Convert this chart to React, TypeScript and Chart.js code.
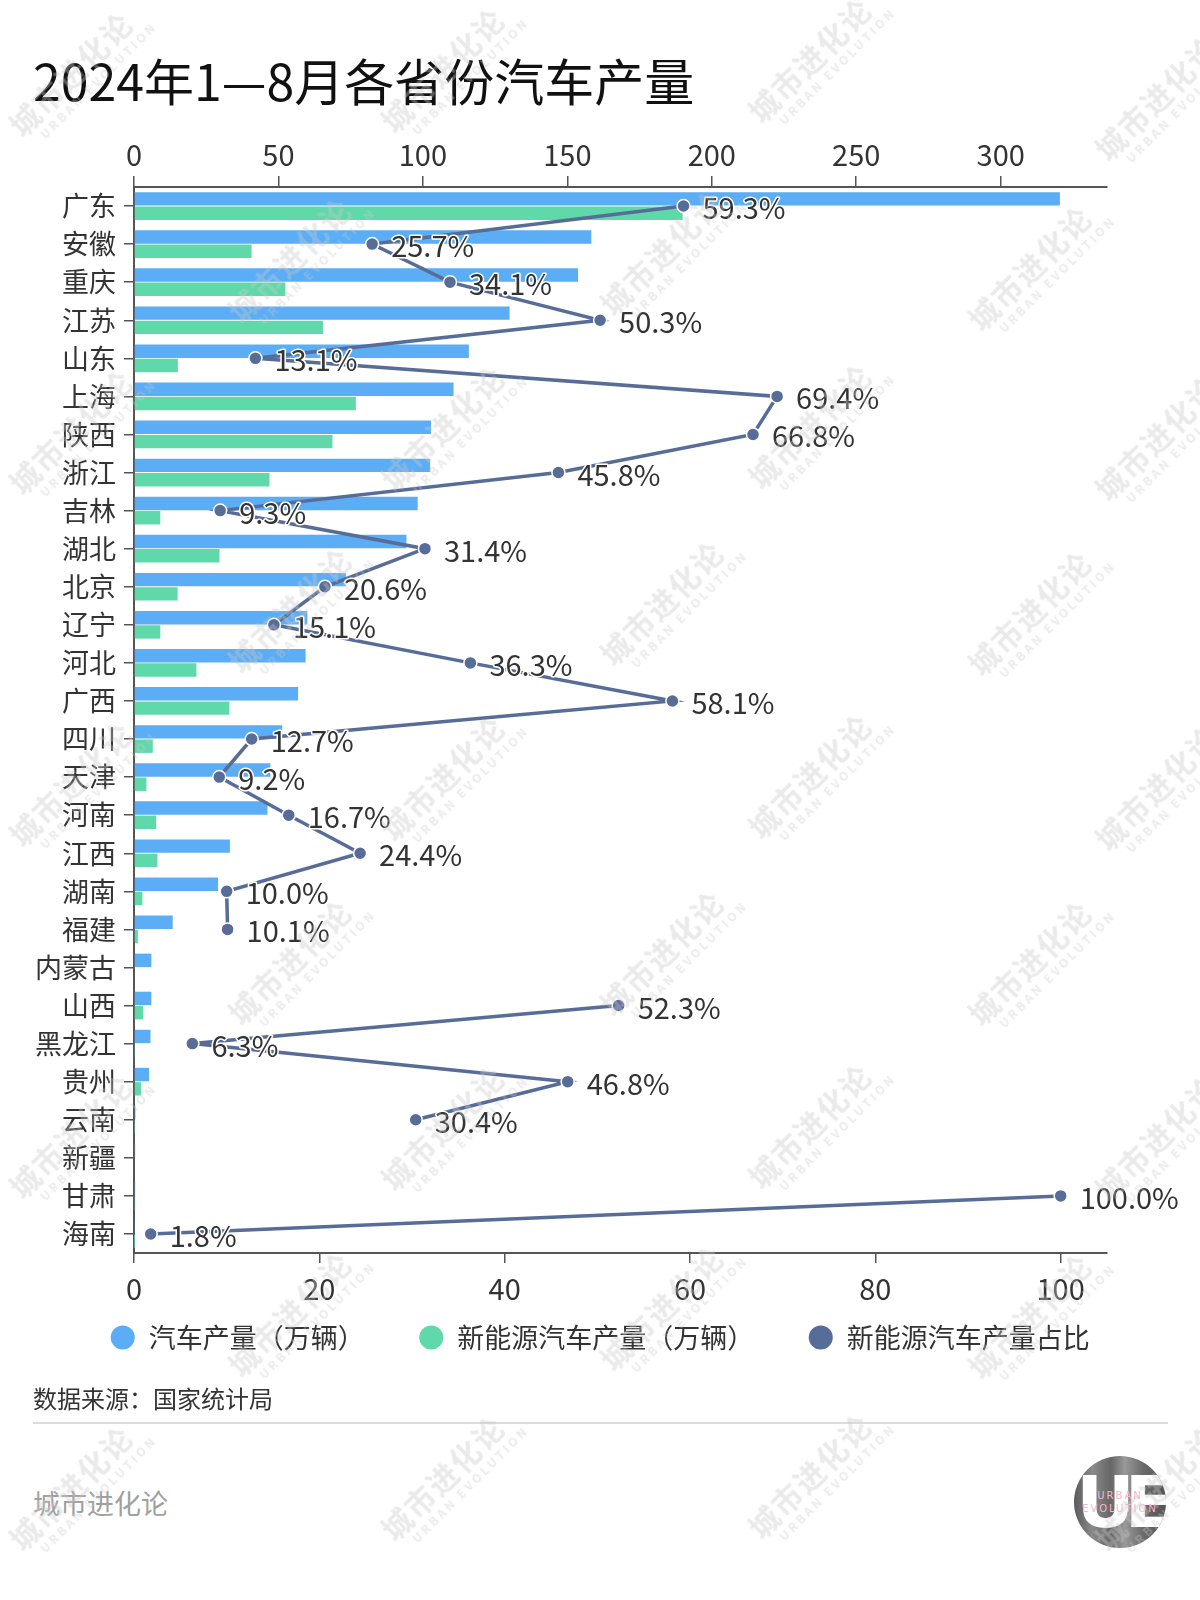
import React, { useEffect, useRef } from 'react';
import { Chart, registerables } from 'chart.js';

Chart.register(...registerables);

const FONT = '"Noto Sans CJK SC", "Noto Sans", sans-serif';

const provinces = [
  '广东', '安徽', '重庆', '江苏', '山东', '上海', '陕西', '浙江', '吉林', '湖北',
  '北京', '辽宁', '河北', '广西', '四川', '天津', '河南', '江西', '湖南', '福建',
  '内蒙古', '山西', '黑龙江', '贵州', '云南', '新疆', '甘肃', '海南',
];

// 汽车产量（万辆）
const carOutput = [
  320.5, 158.3, 153.7, 130.0, 115.9, 110.6, 102.8, 102.5, 98.2, 94.3,
  73.3, 60.0, 59.4, 56.8, 51.3, 47.2, 46.2, 33.2, 29.1, 13.4,
  6.0, 6.0, 5.7, 5.2, 0.5, 0.4, 0.4, 0.3,
];

// 新能源汽车产量（万辆）
const nevOutput = [
  189.9, 40.7, 52.4, 65.4, 15.2, 76.8, 68.7, 46.9, 9.1, 29.6,
  15.1, 9.1, 21.6, 33.0, 6.5, 4.3, 7.7, 8.1, 2.9, 1.35,
  null, 3.1, 0.36, 2.4, 0.15, null, 0.4, 0.01,
];

// 新能源汽车产量占比（%）
const nevShare = [
  59.3, 25.7, 34.1, 50.3, 13.1, 69.4, 66.8, 45.8, 9.3, 31.4,
  20.6, 15.1, 36.3, 58.1, 12.7, 9.2, 16.7, 24.4, 10.0, 10.1,
  null, 52.3, 6.3, 46.8, 30.4, null, 100.0, 1.8,
];

const outputAxisMax = 336.8;
const outputTickStep = 50;
const shareAxisMax = 105;
const shareTickStep = 20;

const BLUE = '#5BADF5';
const GREEN = '#60D9AA';
const NAVY = '#586C98';
const AXIS = '#555555';
const TEXT = '#333333';

const LEGEND_TOP = 1150;

const watermarkSpots: [number, number][] = [
  [77, 80], [449, 76], [816, 66], [1163, 104],
  [296, 266], [668, 259], [1036, 274],
  [77, 438], [449, 434], [816, 432], [1163, 444],
  [296, 616], [668, 609], [1036, 619],
  [77, 790], [449, 784], [816, 782], [1163, 794],
  [296, 968], [668, 959], [1036, 969],
  [77, 1142], [449, 1134], [816, 1132], [1163, 1144],
  [296, 1320], [668, 1314], [1036, 1322],
  [77, 1494], [449, 1484], [816, 1482], [1163, 1494],
];

const legendShiftPlugin = {
  id: 'legendShift',
  afterLayout(chart: any) {
    const lg = chart.legend;
    if (!lg) return;
    const h = lg.bottom - lg.top;
    lg.left = 0;
    lg.right = chart.width;
    lg.width = chart.width;
    lg.top = LEGEND_TOP;
    lg.bottom = LEGEND_TOP + h;
  },
};

const labelPlugin = {
  id: 'shareLabels',
  afterDatasetsDraw(chart: any) {
    const meta = chart.getDatasetMeta(2);
    const ctx = chart.ctx;
    ctx.save();
    ctx.font = `29px ${FONT}`;
    ctx.textAlign = 'left';
    ctx.textBaseline = 'middle';
    ctx.lineJoin = 'round';
    meta.data.forEach((pt: any, i: number) => {
      const v = nevShare[i];
      if (v === null || v === undefined) return;
      const text = v.toFixed(1) + '%';
      const x = pt.x + 19;
      const y = pt.y + 2;
      ctx.strokeStyle = '#ffffff';
      ctx.lineWidth = 3;
      ctx.strokeText(text, x, y);
      ctx.fillStyle = TEXT;
      ctx.fillText(text, x, y);
    });
    ctx.restore();
  },
};

function ChartBlock() {
  const ref = useRef<HTMLCanvasElement | null>(null);
  useEffect(() => {
    if (!ref.current) return;
    Chart.defaults.font.family = FONT;
    const defaultGen = (Chart.defaults.plugins.legend.labels as any).generateLabels;
    const chart = new Chart(ref.current, {
      type: 'bar',
      data: {
        labels: provinces,
        datasets: [
          {
            type: 'bar',
            label: '汽车产量（万辆）',
            data: carOutput as any,
            backgroundColor: BLUE,
            xAxisID: 'x',
            yAxisID: 'y',
            categoryPercentage: 0.75,
            barPercentage: 0.94,
            order: 1,
          },
          {
            type: 'bar',
            label: '新能源汽车产量（万辆）',
            data: nevOutput as any,
            backgroundColor: GREEN,
            xAxisID: 'x',
            yAxisID: 'y',
            categoryPercentage: 0.75,
            barPercentage: 0.94,
            order: 1,
          },
          {
            type: 'line',
            label: '新能源汽车产量占比',
            data: nevShare as any,
            indexAxis: 'y',
            xAxisID: 'x2',
            yAxisID: 'y',
            borderColor: NAVY,
            backgroundColor: NAVY,
            borderWidth: 3.5,
            pointRadius: 6.5,
            pointBackgroundColor: NAVY,
            pointBorderColor: '#ffffff',
            pointBorderWidth: 1.5,
            pointStyle: 'circle',
            spanGaps: false,
            tension: 0,
            order: 0,
          } as any,
        ],
      },
      options: {
        indexAxis: 'y',
        animation: false,
        responsive: false,
        devicePixelRatio: 1,
        layout: { padding: { left: 0, right: 93, top: 0, bottom: 16 } },
        plugins: {
          tooltip: { enabled: false },
          title: { display: false },
          legend: {
            display: true,
            position: 'bottom',
            labels: {
              usePointStyle: true,
              boxWidth: 25,
              boxHeight: 17,
              padding: 54,
              color: TEXT,
              font: { size: 27 },
              sort: (a: any, b: any) => a.datasetIndex - b.datasetIndex,
              generateLabels: (c: any) =>
                defaultGen(c).map((it: any) => ({
                  ...it,
                  pointStyle: 'circle',
                  lineWidth: 0,
                  strokeStyle: 'rgba(0,0,0,0)',
                })),
            },
          },
        },
        scales: {
          y: {
            type: 'category',
            position: 'left',
            offset: true,
            grid: {
              display: true,
              drawOnChartArea: false,
              drawTicks: true,
              tickLength: 10,
              color: AXIS,
              lineWidth: 1.5,
              offset: false,
            },
            border: { display: true, color: AXIS, width: 2 },
            ticks: { color: TEXT, font: { size: 27 }, padding: 8, autoSkip: false },
            afterFit: (s: any) => {
              s.width = 134;
            },
          },
          x: {
            type: 'linear',
            position: 'top',
            min: 0,
            max: outputAxisMax,
            grid: {
              display: true,
              drawOnChartArea: false,
              drawTicks: true,
              tickLength: 11,
              color: AXIS,
              lineWidth: 1.5,
            },
            border: { display: true, color: AXIS, width: 2 },
            ticks: {
              stepSize: outputTickStep,
              includeBounds: false,
              color: TEXT,
              font: { size: 29 },
              padding: 4,
              maxRotation: 0,
            },
            afterFit: (s: any) => {
              s.height = 67;
            },
          },
          x2: {
            type: 'linear',
            position: 'bottom',
            min: 0,
            max: shareAxisMax,
            grid: {
              display: true,
              drawOnChartArea: false,
              drawTicks: true,
              tickLength: 10,
              color: AXIS,
              lineWidth: 1.5,
            },
            border: { display: true, color: AXIS, width: 2 },
            ticks: {
              stepSize: shareTickStep,
              includeBounds: false,
              color: TEXT,
              font: { size: 29 },
              padding: 9,
              maxRotation: 0,
            },
            afterFit: (s: any) => {
              s.height = 60;
            },
          },
        },
      } as any,
      plugins: [legendShiftPlugin, labelPlugin] as any,
    });
    return () => chart.destroy();
  }, []);
  return (
    <canvas
      ref={ref}
      width={1200}
      height={1300}
      style={{ position: 'absolute', left: 0, top: 120, width: 1200, height: 1300 }}
    />
  );
}

function Watermark({ x, y }: { x: number; y: number }) {
  return (
    <div
      style={{
        position: 'absolute',
        left: x - 100,
        top: y - 25,
        width: 200,
        height: 50,
        transform: 'rotate(-45deg)',
        textAlign: 'center',
        color: 'rgba(200,200,200,0.38)',
        pointerEvents: 'none',
        lineHeight: 1,
      }}
    >
      <div style={{ fontSize: 30, fontWeight: 700, letterSpacing: 2 }}>城市进化论</div>
      <div style={{ fontSize: 12, fontWeight: 700, letterSpacing: 3, marginTop: 4, marginLeft: 30 }}>
        URBAN EVOLUTION
      </div>
    </div>
  );
}

export default function App() {
  return (
    <div
      style={{
        position: 'absolute',
        left: 0,
        top: 0,
        width: 1200,
        height: 1600,
        background: '#ffffff',
        fontFamily: FONT,
        overflow: 'hidden',
      }}
    >
      <div
        style={{
          position: 'absolute',
          left: 33,
          top: 49,
          fontSize: 50,
          lineHeight: '60px',
          fontWeight: 400,
          color: '#111111',
          whiteSpace: 'nowrap',
        }}
      >
        2024年1—8月各省份汽车产量
      </div>
      <ChartBlock />
      <div
        style={{
          position: 'absolute',
          left: 33,
          top: 1383,
          fontSize: 24,
          lineHeight: '30px',
          color: TEXT,
          whiteSpace: 'nowrap',
        }}
      >
        数据来源：国家统计局
      </div>
      <div
        style={{
          position: 'absolute',
          left: 33,
          top: 1422,
          width: 1135,
          height: 2,
          background: '#dddddd',
        }}
      />
      <div
        style={{
          position: 'absolute',
          left: 33,
          top: 1486,
          fontSize: 27,
          lineHeight: '34px',
          color: '#a0a0a0',
          whiteSpace: 'nowrap',
        }}
      >
        城市进化论
      </div>
      <div
        style={{
          position: 'absolute',
          left: 1074,
          top: 1456,
          width: 92,
          height: 92,
          borderRadius: '50%',
          overflow: 'hidden',
          background:
            'linear-gradient(90deg, #5a5a5a 0%, #8a8a8a 20%, #666 40%, #999 55%, #6a6a6a 75%, #555 100%)',
        }}
      >
        <div
          style={{
            position: 'absolute',
            left: 0,
            top: 6,
            width: 92,
            textAlign: 'center',
            fontSize: 72,
            fontWeight: 900,
            lineHeight: '80px',
            color: '#ffffff',
            letterSpacing: -10,
            fontFamily: '"DejaVu Sans", sans-serif',
          }}
        >
          UE
        </div>
        <div
          style={{
            position: 'absolute',
            left: 0,
            top: 33,
            width: 92,
            textAlign: 'center',
            fontSize: 10,
            lineHeight: '13px',
            letterSpacing: 2,
            color: '#f4b6cf',
            fontFamily: '"DejaVu Sans", sans-serif',
          }}
        >
          URBAN
          <br />
          EVOLUTION
        </div>
      </div>
      {watermarkSpots.map(([x, y], i) => (
        <Watermark key={i} x={x} y={y} />
      ))}
    </div>
  );
}
